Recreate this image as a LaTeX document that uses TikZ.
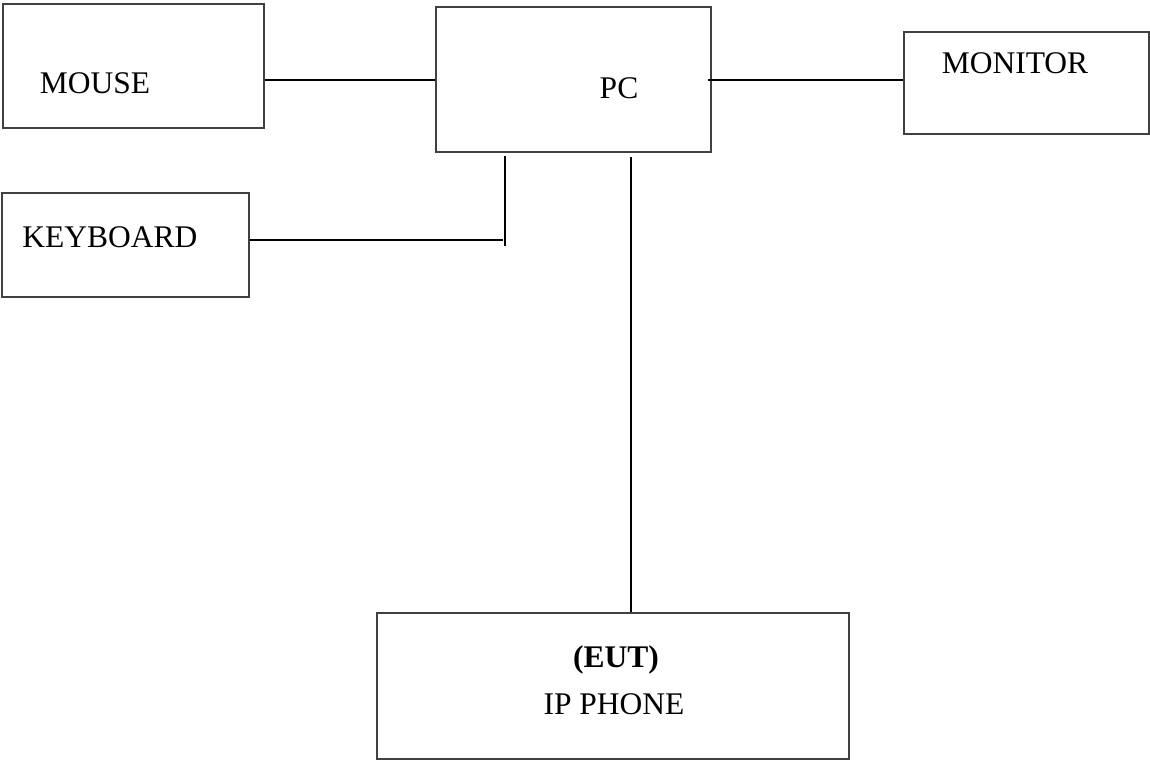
\documentclass[tikz,border=0pt]{standalone}
\usepackage{fontspec}
\setmainfont{Liberation Serif}

\begin{document}
\begin{tikzpicture}[x=1pt, y=-1pt]

    % Frame of the whole page
    \def\W{1150}
    \def\H{761}
    \useasboundingbox (0, 0) rectangle (\W, \H);

    \tikzset{
        box/.style={draw=black!75, line width=1.3pt, rectangle, inner sep=0pt},
        wire/.style={draw=black, line width=1.5pt},
        lbl/.style={font=\fontsize{31.5}{38}\selectfont, inner sep=0pt, anchor=base}
    }

    % Boxes
    \node[box, minimum width=261pt, minimum height=124pt] (mouse) at (133.5, 66) {};
    \node[box, minimum width=275pt, minimum height=145pt] (pc) at (573.5, 79.5) {};
    \node[box, minimum width=245pt, minimum height=102pt] (monitor) at (1026.5, 83) {};
    \node[box, minimum width=247pt, minimum height=104pt] (keyboard) at (125.5, 245) {};
    \node[box, minimum width=472pt, minimum height=146pt] (phone) at (613, 686) {};

    % Texts
    \node[lbl] (mouselbl) at (95, 93) {MOUSE};
    \node[lbl] (pclbl) at (619, 98) {PC};
    \node[lbl] (monitorlbl) at (1015, 73) {MONITOR};
    \node[lbl] (keyboardlbl) at (110, 247) {KEYBOARD};
    \node[lbl, font=\fontsize{31.5}{38}\selectfont\bfseries] (eutlbl) at (616, 667) {(EUT)};
    \node[lbl] (phonelbl) at (614, 714) {IP PHONE};

    % Free ends of the wires
    \coordinate (mousepc) at (436, 79.9);
    \coordinate (pcmon) at (708, 80);
    \coordinate (kbjoin) at (503, 240);
    \coordinate (kbtop) at (505, 156);
    \coordinate (kbbot) at (505, 246);
    \coordinate (phonetop) at (631, 157);

    % Wires
    \draw[wire] (mouse.east |- mousepc) -- (pc.west |- mousepc);
    \draw[wire] (pcmon) -- (monitor.west |- pcmon);
    \draw[wire] (keyboard.east |- kbjoin) -- (kbjoin);
    \draw[wire] (kbtop) -- (kbbot);
    \draw[wire] (phonetop) -- (phone.north -| phonetop);

\end{tikzpicture}
\end{document}
